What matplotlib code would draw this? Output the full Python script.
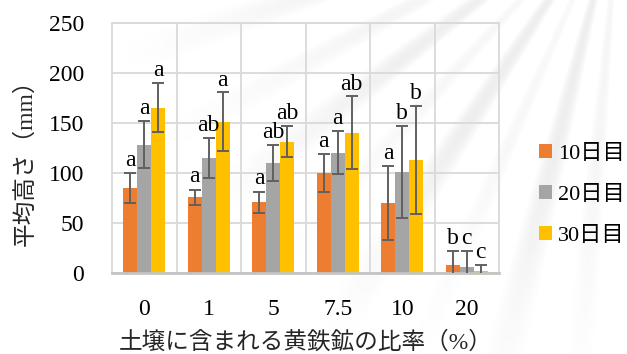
import matplotlib.pyplot as plt
import numpy as np

# pyrite ratio in the soil (%) and mean plant height (mm)
ratios = ["0", "1", "5", "7.5", "10", "20"]
series_names = ["10日目", "20日目", "30日目"]
day10 = [85, 76, 71, 100, 70, 8]
day20 = [128, 115, 110, 120, 101, 6]
day30 = [165, 151, 131, 140, 113, 2]
day10_err = [15, 7.5, 10.5, 19, 36.5, 14]
day20_err = [23.5, 20, 18, 21.5, 45.5, 16]
day30_err = [24.5, 29.5, 15.5, 36.5, 54, 6]
day10_sig = ["a", "a", "a", "a", "a", "b"]
day20_sig = ["a", "ab", "ab", "a", "b", "c"]
day30_sig = ["a", "a", "ab", "ab", "b", "c"]

colors = ["#ED7D31", "#A5A5A5", "#FFC000"]
err_color = "#606060"
grid_color = "#D9D9D9"
serif_jp = ["Liberation Serif", "Noto Sans CJK JP"]

fig = plt.figure(figsize=(6.27, 3.54), dpi=100)

# faint streaked backdrop
bg = fig.add_axes([0, 0, 1, 1], zorder=-1)
bg.axis("off")
yy, xx = np.mgrid[0:354, 0:627]
cx, cy = 620, -110
theta = np.arctan2(yy - cy, xx - cx)
r = np.hypot(xx - cx, yy - cy)
rays = np.clip(np.cos(theta * 38) + 0.4 * np.cos(theta * 17 + 1.0), 0, None) / 1.4
fade = np.clip((540 - r) / 260, 0, 1)
shade = 1 - 0.07 * rays * fade
bg.imshow(shade, cmap="gray", vmin=0, vmax=1, aspect="auto",
          extent=(0, 627, 354, 0), interpolation="bilinear")
bg.set_xlim(0, 627)
bg.set_ylim(354, 0)

ax = fig.add_axes([112 / 627, 81 / 354, 387 / 627, 250 / 354])
ax.set_facecolor("none")

x = np.arange(len(ratios))
w = 0.217
groups = [(day10, day10_err, day10_sig), (day20, day20_err, day20_sig),
          (day30, day30_err, day30_sig)]
for i, (vals, errs, sigs) in enumerate(groups):
    pos = x + (i - 1) * w
    ax.bar(pos, vals, width=w, color=colors[i], label=series_names[i], zorder=2)
    ax.errorbar(pos, vals, yerr=errs, fmt="none", ecolor=err_color,
                elinewidth=1.4, capsize=4.3, capthick=1.4, zorder=3)
    for p, v, e, s in zip(pos, vals, errs, sigs):
        ax.text(p, v + e + 7, s, ha="center", va="baseline",
                fontsize=17, family="Liberation Serif", zorder=4)

ax.set_xlim(-0.5, len(ratios) - 0.5)
ax.set_ylim(0, 250)
ax.set_yticks(np.arange(0, 251, 50))
ax.set_xticks(x)
ax.set_xticklabels(ratios)
ax.set_xticks(x[:-1] + 0.5, minor=True)
ax.tick_params(axis="both", which="both", length=0, labelsize=17)
ax.tick_params(axis="x", pad=19)
ax.tick_params(axis="y", pad=20)
for lab in ax.get_xticklabels() + ax.get_yticklabels():
    lab.set_family("Liberation Serif")

ax.grid(axis="y", color=grid_color, lw=1.3, zorder=0)
ax.grid(axis="x", which="minor", color=grid_color, lw=1.3, zorder=0)
for side in ["left", "right", "top"]:
    ax.spines[side].set_color(grid_color)
    ax.spines[side].set_linewidth(1.3)
ax.spines["bottom"].set_color("#C4C4C4")
ax.spines["bottom"].set_linewidth(2)

ax.set_xlabel("土壌に含まれる黄鉄鉱の比率（%）", fontsize=17, family=serif_jp,
              labelpad=8, color="#262626")
ax.set_ylabel("平均高さ（mm）", fontsize=17, family=serif_jp, color="#262626")
ax.yaxis.set_label_coords(-0.194, 0.464)

ax.legend(loc="center left", bbox_to_anchor=(1.051, 0.312), frameon=False,
          handlelength=0.58, handleheight=0.58, handletextpad=0.3,
          labelspacing=0.95, prop={"family": serif_jp, "size": 16})

fig.savefig("out.png", dpi=100)
